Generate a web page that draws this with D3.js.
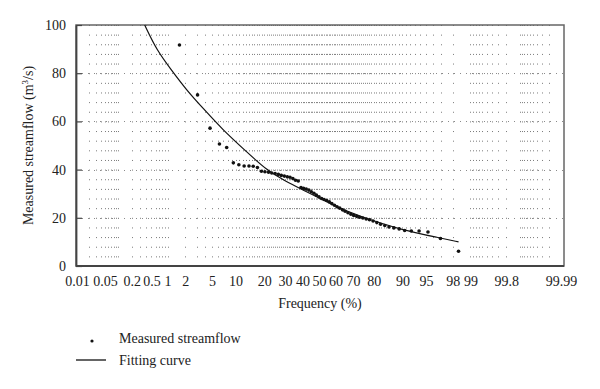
<!DOCTYPE html>
<html>
<head>
<meta charset="utf-8">
<script src="https://cdnjs.cloudflare.com/ajax/libs/d3/7.8.5/d3.min.js"></script>
<style>
body { margin: 0; background: #fff; }
text { font-family: "Liberation Serif", "DejaVu Serif", serif; fill: #222; }
</style>
</head>
<body>
<div id="chart"></div>
<script>
// tick labels (exceedance frequency, %) and flow ticks
var freqLabels = [0.01, 0.05, 0.2, 0.5, 1, 2, 5, 10, 20, 30, 40, 50, 60, 70, 80, 90, 95, 98, 99, 99.8, 99.99];
var flowTicks = [0, 20, 40, 60, 80, 100];

// minor probability grid: [from, to, step]
var gridRanges = [[0.02, 0.1, 0.01], [0.2, 1, 0.1], [2, 98, 1], [99, 99.8, 0.1], [99.9, 99.98, 0.01]];

// measured streamflow
var measuredFreq = [1.6, 3.1, 4.7, 6.3, 7.8, 9.4, 10.9, 12.5, 14.1, 15.6, 17.2, 18.8, 20.3, 21.9, 23.4,
	25.0, 26.6, 28.1, 29.7, 31.3, 32.8, 34.4, 35.9, 37.5, 39.1, 40.6, 42.2, 43.8, 45.3, 46.9, 48.4,
	50.0, 51.6, 53.1, 54.7, 56.3, 57.8, 59.4, 60.9, 62.5, 64.1, 65.6, 67.2, 68.8, 70.3, 71.9, 73.4,
	75.0, 76.6, 78.1, 79.7, 81.3, 82.8, 84.4, 85.9, 87.5, 89.1, 90.6, 92.2, 93.8, 95.3, 96.9, 98.4];
var measuredFlow = [91.7, 71.0, 57.2, 50.6, 49.2, 42.8, 42.0, 41.5, 41.5, 41.4, 40.9, 39.3, 39.1, 38.9, 38.6,
	38.4, 38.0, 37.6, 37.3, 37.0, 36.8, 36.3, 35.6, 35.3, 32.6, 32.2, 31.9, 31.5, 30.8, 30.2, 29.4,
	28.7, 28.0, 27.6, 27.2, 26.6, 25.9, 25.2, 24.6, 24.0, 23.3, 22.7, 22.1, 21.5, 21.0, 20.6, 20.2,
	19.9, 19.5, 19.2, 18.7, 18.0, 17.3, 16.8, 16.2, 15.8, 15.4, 14.7, 14.5, 14.5, 14.1, 11.4, 6.1];

// fitting curve
var curveFreq = [0.37, 0.63, 1.17, 2.09, 3.75, 7.0, 13.3, 21.0, 31.0, 38.5, 62.7, 73.6, 89.4, 96.9, 98.4];
var curveFlow = [100, 89.6, 81.3, 73.0, 65.4, 56.4, 47.4, 39.8, 34.9, 32.2, 23.8, 20.6, 15.1, 11.6, 10.0];

// inverse normal cdf (Acklam)
function probit(p) {
	var a = [-39.69683028665376, 220.9460984245205, -275.9285104469687, 138.3577518672690, -30.66479806614716, 2.506628277459239];
	var b = [-54.47609879822406, 161.5858368580409, -155.6989798598866, 66.80131188771972, -13.28068155288572];
	var c = [-0.007784894002430293, -0.3223964580411365, -2.400758277161838, -2.549732539343734, 4.374664141464968, 2.938163982698783];
	var d = [0.007784695709041462, 0.3224671290700398, 2.445134137142996, 3.754408661907416];
	var pl = 0.02425, q, r;
	if (p < pl) {
		q = Math.sqrt(-2 * Math.log(p));
		return (((((c[0]*q+c[1])*q+c[2])*q+c[3])*q+c[4])*q+c[5]) / ((((d[0]*q+d[1])*q+d[2])*q+d[3])*q+1);
	}
	if (p > 1 - pl) {
		q = Math.sqrt(-2 * Math.log(1 - p));
		return -(((((c[0]*q+c[1])*q+c[2])*q+c[3])*q+c[4])*q+c[5]) / ((((d[0]*q+d[1])*q+d[2])*q+d[3])*q+1);
	}
	q = p - 0.5; r = q * q;
	return (((((a[0]*r+a[1])*r+a[2])*r+a[3])*r+a[4])*r+a[5])*q / (((((b[0]*r+b[1])*r+b[2])*r+b[3])*r+b[4])*r+1);
}

var width = 600, height = 389;
var box = {left: 76, right: 564, top: 25, bottom: 266};

var svg = d3.select("#chart").append("svg")
	.attr("width", width)
	.attr("height", height);

// x is linear in the normal quantile of the frequency
var zScale = d3.scaleLinear()
	.domain([probit(0.0001), probit(0.9999)])
	.range([77, 561]);
function xPos(f) { return zScale(probit(f / 100)); }

var yScale = d3.scaleLinear()
	.domain([0, 100])
	.range([box.bottom, box.top]);

// dotted grid: vertical dotted lines, one dot every 4 units of flow
var gridFreq = [];
gridRanges.forEach(function(g) {
	d3.range(g[0], g[1] + g[2] / 2, g[2]).forEach(function(v) { gridFreq.push(v); });
});
var rowStep = yScale(0) - yScale(4);
svg.append("g").selectAll("line")
	.data(gridFreq)
	.enter()
	.append("line")
	.attr("x1", function(d) { return Math.round(xPos(d)) + 0.5; })
	.attr("x2", function(d) { return Math.round(xPos(d)) + 0.5; })
	.attr("y1", yScale(100))
	.attr("y2", yScale(0) + 1)
	.attr("stroke", "#7a7a7a")
	.attr("stroke-width", 1)
	.attr("stroke-dasharray", "1," + (rowStep - 1));

// major rows
svg.append("g").selectAll("line")
	.data(flowTicks.slice(1, 5))
	.enter()
	.append("line")
	.attr("x1", box.left)
	.attr("x2", box.right)
	.attr("y1", function(d) { return Math.round(yScale(d)) + 0.5; })
	.attr("y2", function(d) { return Math.round(yScale(d)) + 0.5; })
	.attr("stroke", "#8a8a8a")
	.attr("stroke-dasharray", "1,5");

// frame
svg.append("rect")
	.attr("x", box.left)
	.attr("y", box.top)
	.attr("width", box.right - box.left)
	.attr("height", box.bottom - box.top)
	.attr("fill", "none")
	.attr("stroke", "#666")
	.attr("stroke-width", 1.5);

// y axis
var yAxis = svg.append("g")
	.attr("transform", "translate(" + box.left + ",0)")
	.call(d3.axisLeft(yScale).tickValues(flowTicks).tickSizeInner(-6).tickSizeOuter(0).tickPadding(10));
yAxis.select(".domain").attr("stroke", "#444").attr("stroke-width", 1.8);
yAxis.selectAll(".tick line").attr("stroke", "#444").attr("stroke-width", 1.2);
yAxis.selectAll("text").style("font-size", "14px").attr("fill", "#222")
	.style("font-family", "'Liberation Serif', serif");

// x axis
var xAxis = svg.append("g")
	.attr("transform", "translate(0," + box.bottom + ")")
	.call(d3.axisBottom(d3.scaleLinear().domain(zScale.domain()).range(zScale.range()))
		.tickValues(freqLabels.map(function(f) { return probit(f / 100); }))
		.tickFormat(function(z, i) { return freqLabels[i]; })
		.tickSize(0).tickPadding(10));
xAxis.select(".domain").remove();
xAxis.selectAll("text").style("font-size", "14px").attr("fill", "#222")
	.style("font-family", "'Liberation Serif', serif");

svg.append("line")
	.attr("x1", box.left).attr("x2", box.right)
	.attr("y1", box.bottom).attr("y2", box.bottom)
	.attr("stroke", "#444").attr("stroke-width", 1.8);

// fitting curve
var line = d3.line()
	.x(function(d, i) { return xPos(curveFreq[i]); })
	.y(function(d) { return yScale(d); })
	.curve(d3.curveBasis);

svg.append("path")
	.attr("fill", "none")
	.attr("stroke", "#111")
	.attr("stroke-width", 1.2)
	.attr("d", line(curveFlow));

// measured points
svg.append("g").selectAll("circle")
	.data(measuredFlow)
	.enter()
	.append("circle")
	.attr("cx", function(d, i) { return xPos(measuredFreq[i]); })
	.attr("cy", function(d) { return yScale(d); })
	.attr("r", 1.8)
	.attr("fill", "#111");

// axis titles
svg.append("text")
	.attr("x", 320)
	.attr("y", 308)
	.style("text-anchor", "middle")
	.style("font-size", "14px")
	.text("Frequency (%)");

var yl = svg.append("text")
	.attr("transform", "translate(33," + ((box.top + box.bottom) / 2) + ") rotate(-90)")
	.style("text-anchor", "middle")
	.style("font-size", "14px");
yl.append("tspan").text("Measured streamflow (m");
yl.append("tspan").attr("dy", -5).style("font-size", "9px").text("3");
yl.append("tspan").attr("dy", 5).text("/s)");

// legend
svg.append("circle").attr("cx", 92).attr("cy", 341).attr("r", 1.6).attr("fill", "#111");
svg.append("text").attr("x", 119).attr("y", 343).style("font-size", "14px").text("Measured streamflow");
svg.append("line").attr("x1", 76).attr("x2", 106).attr("y1", 360).attr("y2", 360)
	.attr("stroke", "#111").attr("stroke-width", 1.3);
svg.append("text").attr("x", 119).attr("y", 365).style("font-size", "14px").text("Fitting curve");
</script>
</body>
</html>
